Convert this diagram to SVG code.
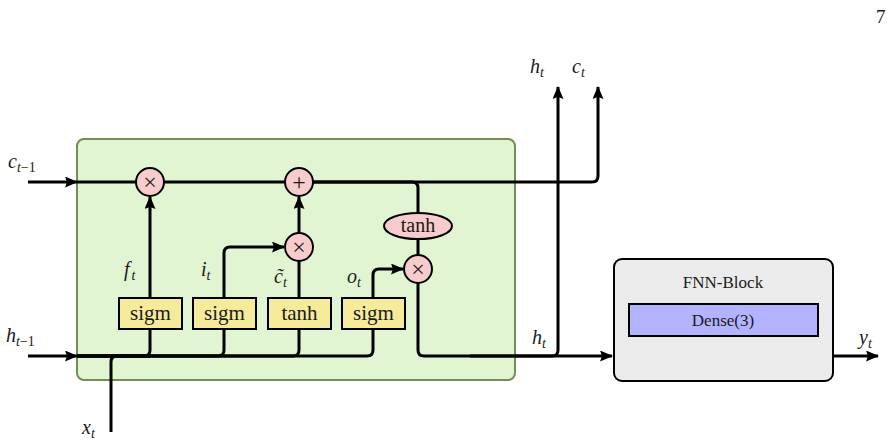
<svg xmlns="http://www.w3.org/2000/svg" width="895" height="445" viewBox="0 0 895 445">
<style>
.w{fill:none;stroke:#000;stroke-width:3;stroke-linejoin:round}
.op{fill:#f8cccc;stroke:#000;stroke-width:2}
.gate{fill:#f5eb9b;stroke:#000;stroke-width:2}
.t{font-family:"Liberation Serif","DejaVu Serif",serif;fill:#1a1a1a}
.m{font-family:"Liberation Serif","DejaVu Serif",serif;font-style:italic;fill:#1a1a1a;font-size:20px}
.s{font-style:italic;font-size:14px}
.n{font-style:normal;font-size:14px}
</style>
<defs>
<marker id="ar" markerUnits="userSpaceOnUse" markerWidth="14" markerHeight="12" refX="12" refY="5.5" orient="auto">
<path d="M0,0 L13,5.5 L0,11 L2,5.5 z" fill="#000"/>
</marker>
</defs>
<text class="t" x="876" y="23" font-size="19">7</text>
<g id="lstm-cell">
<rect x="77" y="139" width="438" height="241" rx="7" fill="#e1f5d3" stroke="#6f8f57" stroke-width="2"/>
</g>
<g id="fnn-block">
<rect x="614" y="259" width="219" height="122" rx="8" fill="#ebebeb" stroke="#000" stroke-width="2"/>
<text class="t" x="723" y="288" font-size="17" text-anchor="middle">FNN-Block</text>
</g>
<g id="dense">
<rect x="629" y="304" width="189" height="32" fill="#b3b3ff" stroke="#000" stroke-width="2"/>
<text class="t" x="723" y="326" font-size="17" text-anchor="middle">Dense(3)</text>
</g>
<g id="connectors">
<path class="w" d="M28,182 H77" marker-end="url(#ar)"/>
<path class="w" d="M77,182 H592 Q598,182 598,176 V87" marker-end="url(#ar)"/>
<path class="w" d="M310,182 H412 Q418,182 418,188 V213"/>
<path class="w" d="M418,239 V255"/>
<path class="w" d="M28,356 H77" marker-end="url(#ar)"/>
<path class="w" d="M77,356 H144 Q150,356 150,350 V329"/>
<path class="w" d="M77,356 H218 Q224,356 224,350 V329"/>
<path class="w" d="M77,356 H293 Q299,356 299,350 V329"/>
<path class="w" d="M77,356 H367 Q373,356 373,350 V329"/>
<path class="w" d="M111,432 V362 Q111,356 117,356 H150"/>
<path class="w" d="M150,298 V197" marker-end="url(#ar)"/>
<path class="w" d="M224,298 V253 Q224,247 230,247 H284" marker-end="url(#ar)"/>
<path class="w" d="M299,298 V261"/>
<path class="w" d="M299,233 V197" marker-end="url(#ar)"/>
<path class="w" d="M373,298 V275 Q373,269 379,269 H403" marker-end="url(#ar)"/>
<path class="w" d="M418,283 V350 Q418,356 424,356 H612" marker-end="url(#ar)"/>
<path class="w" d="M470,356 H552 Q558,356 558,350 V87" marker-end="url(#ar)"/>
<path class="w" d="M833,356 H878" marker-end="url(#ar)"/>
</g>
<g id="mul-f">
<circle class="op" cx="150" cy="182" r="14"/>
<text class="t" x="150" y="190" font-size="24" text-anchor="middle">×</text>
</g>
<g id="add-c">
<circle class="op" cx="299" cy="182" r="14"/>
<text class="t" x="299" y="190" font-size="24" text-anchor="middle">+</text>
</g>
<g id="mul-i">
<circle class="op" cx="299" cy="247" r="14"/>
<text class="t" x="299" y="255" font-size="24" text-anchor="middle">×</text>
</g>
<g id="mul-o">
<circle class="op" cx="418" cy="269" r="14"/>
<text class="t" x="418" y="277" font-size="24" text-anchor="middle">×</text>
</g>
<g id="tanh-c">
<ellipse class="op" cx="418" cy="226" rx="34" ry="13"/>
<text class="t" x="418" y="232" font-size="20" text-anchor="middle">tanh</text>
</g>
<g id="gate-f">
<rect class="gate" x="119" y="298" width="63" height="31"/>
<text class="t" x="150.5" y="320" font-size="21" text-anchor="middle">sigm</text>
</g>
<g id="gate-i">
<rect class="gate" x="193" y="298" width="63" height="31"/>
<text class="t" x="224.5" y="320" font-size="21" text-anchor="middle">sigm</text>
</g>
<g id="gate-c">
<rect class="gate" x="268" y="298" width="63" height="31"/>
<text class="t" x="299.5" y="320" font-size="21" text-anchor="middle">tanh</text>
</g>
<g id="gate-o">
<rect class="gate" x="342" y="298" width="63" height="31"/>
<text class="t" x="373.5" y="320" font-size="21" text-anchor="middle">sigm</text>
</g>
<g id="labels">
<text class="m" x="8" y="168">c<tspan class="s" dy="4">t</tspan><tspan class="n">−1</tspan></text>
<text class="m" x="6" y="342">h<tspan class="s" dy="4">t</tspan><tspan class="n">−1</tspan></text>
<text class="m" x="82" y="434">x<tspan class="s" dy="4">t</tspan></text>
<text class="m" x="124" y="276">f<tspan class="s" dy="4" dx="2">t</tspan></text>
<text class="m" x="201" y="276">i<tspan class="s" dy="4">t</tspan></text>
<text class="m" x="274" y="283">c&#x303;<tspan class="s" dy="4">t</tspan></text>
<text class="m" x="347" y="283">o<tspan class="s" dy="4">t</tspan></text>
<text class="m" x="530" y="73">h<tspan class="s" dy="4">t</tspan></text>
<text class="m" x="572" y="73">c<tspan class="s" dy="4">t</tspan></text>
<text class="m" x="532" y="344">h<tspan class="s" dy="4">t</tspan></text>
<text class="m" x="859" y="344">y<tspan class="s" dy="4">t</tspan></text>
</g>
</svg>
